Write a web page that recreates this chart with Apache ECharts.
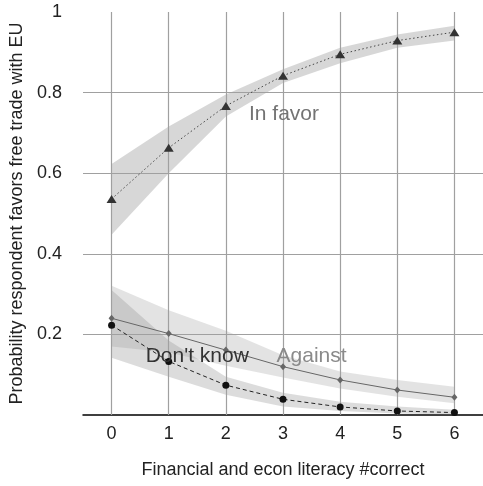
<!DOCTYPE html>
<html><head><meta charset="utf-8">
<script src="https://cdn.jsdelivr.net/npm/echarts@6/dist/echarts.min.js"></script>
<style>html,body{margin:0;padding:0;background:#fff}#c{width:483px;height:486px}</style>
</head><body><div id="c"></div>
<script>
const categories = ['0','1','2','3','4','5','6'];
const yGridValues = [0.2, 0.4, 0.6, 0.8];

const inFavor     = [0.536, 0.663, 0.767, 0.842, 0.895, 0.929, 0.950];
const inFavorLow  = [0.447, 0.600, 0.741, 0.824, 0.873, 0.911, 0.929];
const inFavorHigh = [0.623, 0.716, 0.795, 0.858, 0.911, 0.944, 0.966];

const against     = [0.240, 0.202, 0.161, 0.120, 0.087, 0.062, 0.044];
const againstLow  = [0.170, 0.155, 0.122, 0.093, 0.066, 0.045, 0.029];
const againstHigh = [0.321, 0.260, 0.209, 0.148, 0.108, 0.087, 0.070];

const dontKnow     = [0.223, 0.133, 0.074, 0.039, 0.020, 0.010, 0.006];
const dontKnowLow  = [0.142, 0.095, 0.050, 0.021, 0.010, 0.004, 0.001];
const dontKnowHigh = [0.310, 0.185, 0.095, 0.055, 0.033, 0.021, 0.013];

const FONT = '"Liberation Sans", Arial, sans-serif';
const chart = echarts.init(document.getElementById('c'), null, {renderer: 'canvas'});

function diff(h, l) { return h.map((v, i) => +(v - l[i]).toFixed(4)); }
function band(key, low, high, color) {
  return [
    {name: key + '_lo', type: 'line', stack: key, data: low, symbol: 'none',
     lineStyle: {opacity: 0}, silent: true, z: 2},
    {name: key + '_hi', type: 'line', stack: key, data: diff(high, low), symbol: 'none',
     lineStyle: {opacity: 0}, areaStyle: {color: color, opacity: 1}, silent: true, z: 2}
  ];
}

const option = {
  animation: false,
  grid: {left: 83, top: 12, width: 404, height: 403, containLabel: false},
  xAxis: {
    type: 'category', data: categories, boundaryGap: true,
    axisLine: {lineStyle: {color: '#000', width: 1.5}},
    axisTick: {show: false},
    splitLine: {show: false},
    axisLabel: {fontSize: 18, color: '#222', margin: 10, fontFamily: FONT},
    name: 'Financial and econ literacy #correct', nameLocation: 'middle', nameGap: 46,
    nameTextStyle: {fontSize: 18, color: '#222', fontFamily: FONT}
  },
  yAxis: {
    type: 'value', min: 0, max: 1, interval: 0.2,
    axisLine: {show: false}, axisTick: {show: false}, splitLine: {show: false},
    axisLabel: {fontSize: 18, color: '#222', margin: 21, fontFamily: FONT, showMinLabel: false,
                padding: [6, 0, 0, 0]},
    name: 'Probability respondent favors free trade with EU', nameLocation: 'middle', nameGap: 55,
    nameTextStyle: {fontSize: 18, color: '#222', fontFamily: FONT}
  },
  series: [
    {name: 'grid', type: 'line', data: categories.map(() => null), symbol: 'none', z: 1, silent: true,
     markLine: {silent: true, symbol: ['none', 'none'], label: {show: false}, animation: false,
       lineStyle: {color: '#a0a0a0', width: 1.2, type: 'solid', opacity: 1},
       emphasis: {disabled: true},
       data: categories.map(c => ({xAxis: c})).concat(yGridValues.map(v => ({yAxis: v})))}},
    ...band('fav', inFavorLow, inFavorHigh, 'rgba(150,150,150,0.38)'),
    ...band('ag', againstLow, againstHigh, 'rgba(150,150,150,0.27)'),
    ...band('dk', dontKnowLow, dontKnowHigh, 'rgba(150,150,150,0.33)'),
    {name: 'In favor', type: 'line', data: inFavor, z: 5,
     lineStyle: {color: '#444', width: 1, type: [1.5, 2.5]},
     symbol: 'triangle', symbolSize: [10, 8], itemStyle: {color: '#333'}},
    {name: 'Against', type: 'line', data: against, z: 5,
     lineStyle: {color: '#666', width: 1, type: 'solid'},
     symbol: 'diamond', symbolSize: [6, 7], itemStyle: {color: '#666'}},
    {name: "Don't know", type: 'line', data: dontKnow, z: 5,
     lineStyle: {color: '#222', width: 1, type: [4, 3]},
     symbol: 'circle', symbolSize: 7, itemStyle: {color: '#111'}}
  ]
};
chart.setOption(option);

function px(x, y) { return chart.convertToPixel({xAxisIndex: 0, yAxisIndex: 0}, [x, y]); }
const favPos = px('3', 0.747);
const dkA = px('1', 0.146), dkB = px('2', 0.146);
const agA = px('3', 0.146), agB = px('4', 0.146);
chart.setOption({graphic: [
  {type: 'text', x: favPos[0] + 1, y: favPos[1], z: 10,
   style: {text: 'In favor', font: '21px ' + FONT, fill: '#737373', align: 'center', verticalAlign: 'middle'}},
  {type: 'text', x: (dkA[0] + dkB[0]) / 2, y: dkA[1], z: 10,
   style: {text: "Don't know", font: '21px ' + FONT, fill: '#333', align: 'center', verticalAlign: 'middle'}},
  {type: 'text', x: (agA[0] + agB[0]) / 2, y: agA[1], z: 10,
   style: {text: 'Against', font: '21px ' + FONT, fill: '#8a8a8a', align: 'center', verticalAlign: 'middle'}}
]});
</script>
</body></html>
